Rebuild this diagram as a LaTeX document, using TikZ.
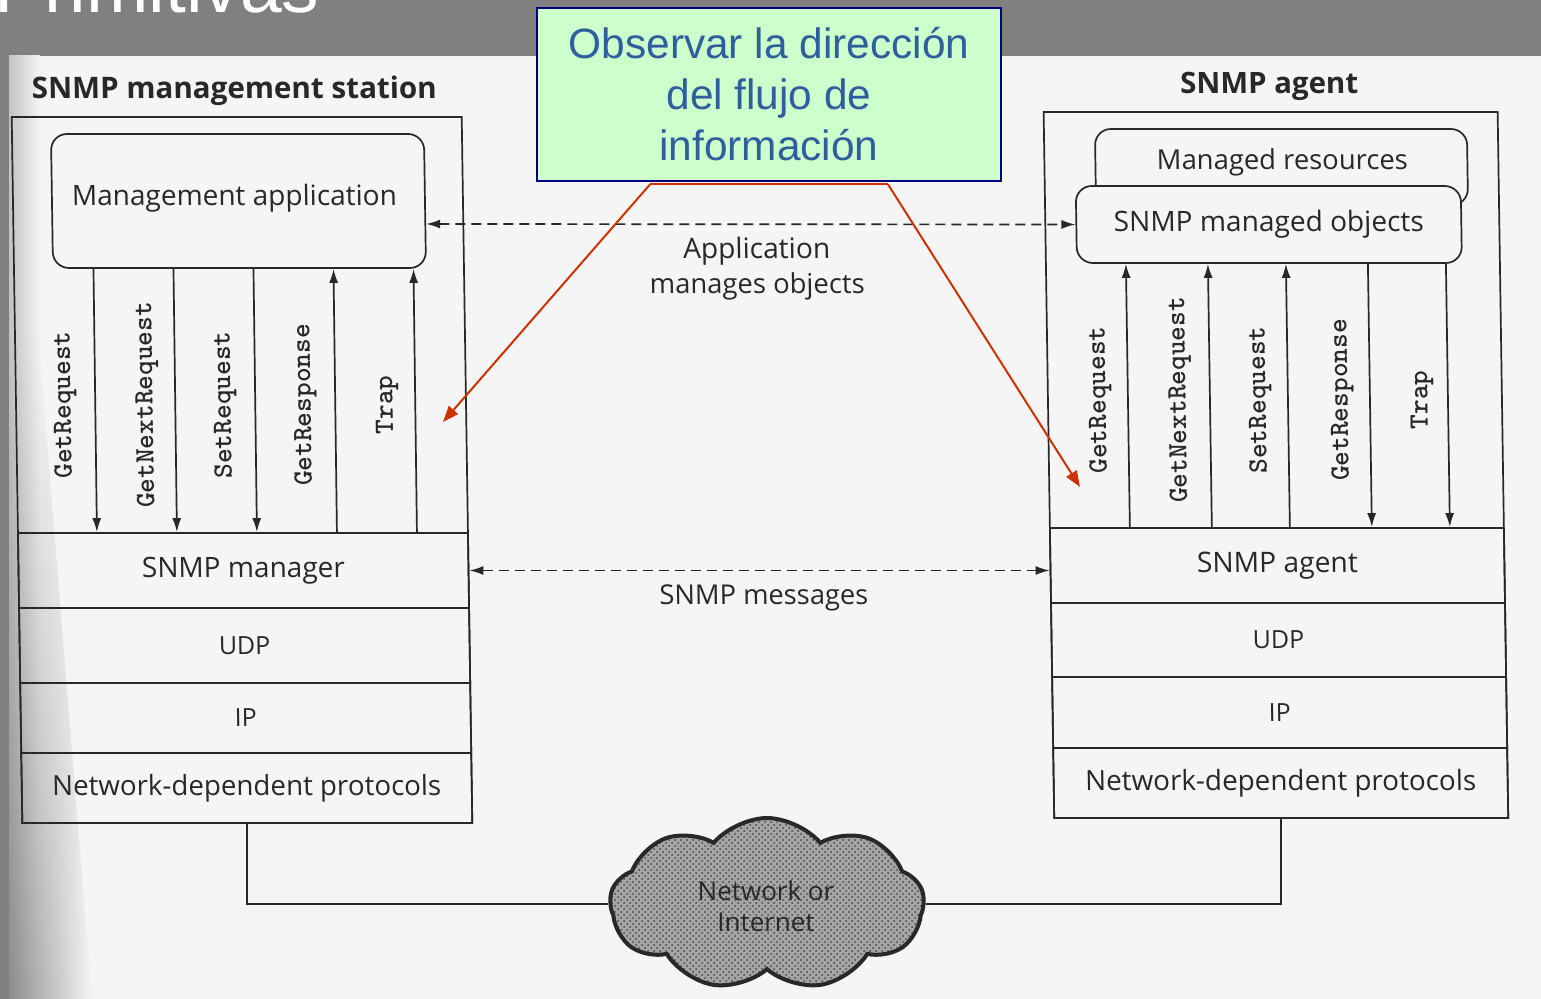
\documentclass[tikz,border=0pt]{standalone}
\usepackage{fontspec}
\usepackage{graphicx}
\setmainfont{Open Sans}
\newfontfamily\slidefont{Liberation Sans}
\usetikzlibrary{arrows.meta,shapes.symbols,patterns,fadings}

\definecolor{slidegray}{RGB}{128,128,128}
\definecolor{paper}{RGB}{245,245,245}
\definecolor{spine}{RGB}{140,140,140}
\definecolor{spinelight}{RGB}{195,195,195}
\definecolor{ink}{RGB}{40,40,40}
\definecolor{cloudfill}{RGB}{165,165,165}
\definecolor{clouddots}{RGB}{70,70,70}
\definecolor{notefill}{RGB}{204,255,204}
\definecolor{noteframe}{RGB}{0,0,128}
\definecolor{notetext}{RGB}{46,94,158}
\definecolor{pointerred}{RGB}{204,51,0}

% fit a piece of text to a given width (in pt)
\newcommand{\fitw}[2]{\resizebox{#1pt}{!}{#2}}

\tikzset{
  scanline/.style={draw=ink, line width=0.85pt},
  layerbox/.style={scanline, inner sep=0pt, text=ink},
  txt/.style={inner sep=0pt, text=ink},
  prim/.style={txt, rotate=90, font=\ttfamily\bfseries\fontsize{14}{14}\selectfont},
  scantip/.tip={Latex[length=7pt,width=4.5pt]},
  msgarrow/.style={scanline, -{scantip}},
  dashboth/.style={scanline, {scantip}-{scantip}, dash pattern=on 5pt off 3pt},
  pointer/.style={draw=pointerred, line width=1pt},
  pointertip/.style={pointer, -{Triangle[length=8pt,width=6pt]}},
}

\begin{document}
\begin{tikzpicture}[x=0.5pt,y=-0.5pt]
\useasboundingbox (0,0) rectangle (1541,999);
\clip (0,0) rectangle (1541,999);

% slide background and scanned page
\fill[slidegray] (0,0) rectangle (1541,999);
\fill[paper] (9,56) rectangle (1541,999);
\shade[left color=spinelight, right color=paper] (9,56) rectangle (40,999);
\shade[left color=spine, right color=paper, path fading=north]
  (9,330) -- (38,330) -- (92,999) -- (9,999) -- cycle;

% slide title (cut by the top edge)
\node[anchor=base west, inner sep=0pt, text=white,
      font=\slidefont\fontsize{37.5}{40}\selectfont] (title) at (-6,13) {Primitivas};

% ---------- scanned figure (slightly skewed page) ----------
\begin{scope}[shift={(0,470)}, xslant=-0.015, shift={(0,-470)},
              every node/.append style={transform shape}]

  % management station
  \node[txt, font=\bfseries] (lhead) at (240,91) {\fitw{202.5}{SNMP management station}};
  \node[scanline, inner sep=0pt, minimum width=225pt, minimum height=353pt] (lstation) at (242,470) {};
  \node[scanline, fill=paper, rounded corners=8pt, inner sep=0pt,
        minimum width=186.5pt, minimum height=67pt] (lapp) at (242.5,201) {};
  \node[txt] (lapptxt) at (238.5,198) {\fitw{162.5}{Management application}};

  \node[layerbox, minimum width=225pt, minimum height=37.5pt] (lmgr) at (242,570.5) {\fitw{101.5}{SNMP manager}};
  \node[layerbox, minimum width=225pt, minimum height=37.5pt, font=\fontsize{12.5}{14}\selectfont] (ludp) at (242,645.5) {UDP};
  \node[layerbox, minimum width=225pt, minimum height=35pt, font=\fontsize{12.5}{14}\selectfont] (lip) at (242,718) {IP};
  \node[layerbox, minimum width=225pt, minimum height=35pt] (lndp) at (242,788) {\fitw{194.5}{Network-dependent protocols}};

  % primitives at the manager side
  \node[prim] (lget)  at (66,405)  {GetRequest};
  \node[prim] (lnext) at (148,405) {GetNextRequest};
  \node[prim] (lset)  at (226,405) {SetRequest};
  \node[prim] (lresp) at (306,405) {GetResponse};
  \node[prim] (ltrap) at (388,405) {Trap};

  \foreach \dx in {-73,-33,7}
    \draw[msgarrow] ([xshift=\dx pt]lapp.south) -- ([xshift=\dx pt]lmgr.north);
  \foreach \dx in {47,87}
    \draw[msgarrow] ([xshift=\dx pt]lmgr.north) -- ([xshift=\dx pt]lapp.south);

  % agent
  \node[txt, font=\bfseries] (rhead) at (1275,86) {\fitw{89}{SNMP agent}};
  \node[scanline, inner sep=0pt, minimum width=227pt, minimum height=353pt] (rstation) at (1276,465) {};
  \node[scanline, fill=paper, rounded corners=8pt, inner sep=0pt,
        minimum width=186pt, minimum height=38pt] (rres) at (1286,167) {};
  \node[txt] (rrestxt) at (1287,162) {\fitw{125.5}{Managed resources}};
  \node[scanline, fill=paper, text=ink, rounded corners=8pt, inner sep=0pt,
        minimum width=192.5pt, minimum height=38.5pt] (robj) at (1272.5,224.5) {\fitw{155}{SNMP managed objects}};

  \node[layerbox, minimum width=227pt, minimum height=37.5pt] (ragt) at (1276,565.5) {\fitw{80.5}{SNMP agent}};
  \node[layerbox, minimum width=227pt, minimum height=37pt, font=\fontsize{12.5}{14}\selectfont] (rudp) at (1276,640) {UDP};
  \node[layerbox, minimum width=227pt, minimum height=35.5pt, font=\fontsize{12.5}{14}\selectfont] (rip) at (1276,712.5) {IP};
  \node[layerbox, minimum width=227pt, minimum height=35pt] (rndp) at (1276,783) {\fitw{195.5}{Network-dependent protocols}};

  % primitives at the agent side
  \node[prim] (rget)  at (1101,400) {GetRequest};
  \node[prim] (rnext) at (1181,400) {GetNextRequest};
  \node[prim] (rset)  at (1261,400) {SetRequest};
  \node[prim] (rresp) at (1343,400) {GetResponse};
  \node[prim] (rtrap) at (1423,400) {Trap};

  \foreach \da/\db in {-73.5/-71.75,-32.5/-30.75,6.5/8.25}
    \draw[msgarrow] ([xshift=\da pt]ragt.north) -- ([xshift=\db pt]robj.south);
  \foreach \da/\db in {47.5/49.25,86.5/88.25}
    \draw[msgarrow] ([xshift=\db pt]robj.south) -- ([xshift=\da pt]ragt.north);

  % exchanges between the two sides
  \draw[dashboth] ([yshift=-11.5pt]lapp.east) -- (robj.west);
  \node[txt, align=center] (appmsg) at (760,268.5)
    {\fitw{73.5}{Application}\\[3pt]\fitw{107.5}{manages objects}};
  \draw[dashboth] (lmgr.east) -- (lmgr.east -| ragt.west);
  \node[txt] (snmpmsg) at (762,598) {\fitw{104.5}{SNMP messages}};
\end{scope}

% network cloud
\node[cloud, cloud puffs=9, cloud puff arc=100, aspect=1.8,
      minimum width=157pt, minimum height=86pt, inner sep=0pt,
      draw=ink, line width=2pt, preaction={fill=cloudfill},
      pattern=crosshatch dots, pattern color=clouddots] (cloud) at (767,904) {};
\node[txt, text=ink, align=center, font=\fontsize{13}{15.5}\selectfont] (cloudtxt) at (766,906)
  {Network or\\Internet};
\draw[scanline] (lndp.south) |- (cloud.west);
\draw[scanline] (rndp.south) |- (cloud.east);

% note box and pointers
\node[draw=noteframe, line width=1.4pt, fill=notefill, inner sep=0pt,
      minimum width=232pt, minimum height=86.5pt, align=center, text=notetext,
      font=\slidefont\fontsize{21.2}{25.5}\selectfont] (note) at (769,94.5)
  {Observar la dirección\\del flujo de\\información};
\coordinate (pa) at ([shift={(-59.5pt,-1pt)}]note.south);
\coordinate (pb) at ([shift={(59.5pt,-1pt)}]note.south);
\coordinate (tipl) at (443,422);
\coordinate (tipr) at (1080,487);
\draw[pointer] (pa) -- (pb);
\draw[pointertip] (pa) -- (tipl);
\draw[pointertip] (pb) -- (tipr);
\end{tikzpicture}
\end{document}
